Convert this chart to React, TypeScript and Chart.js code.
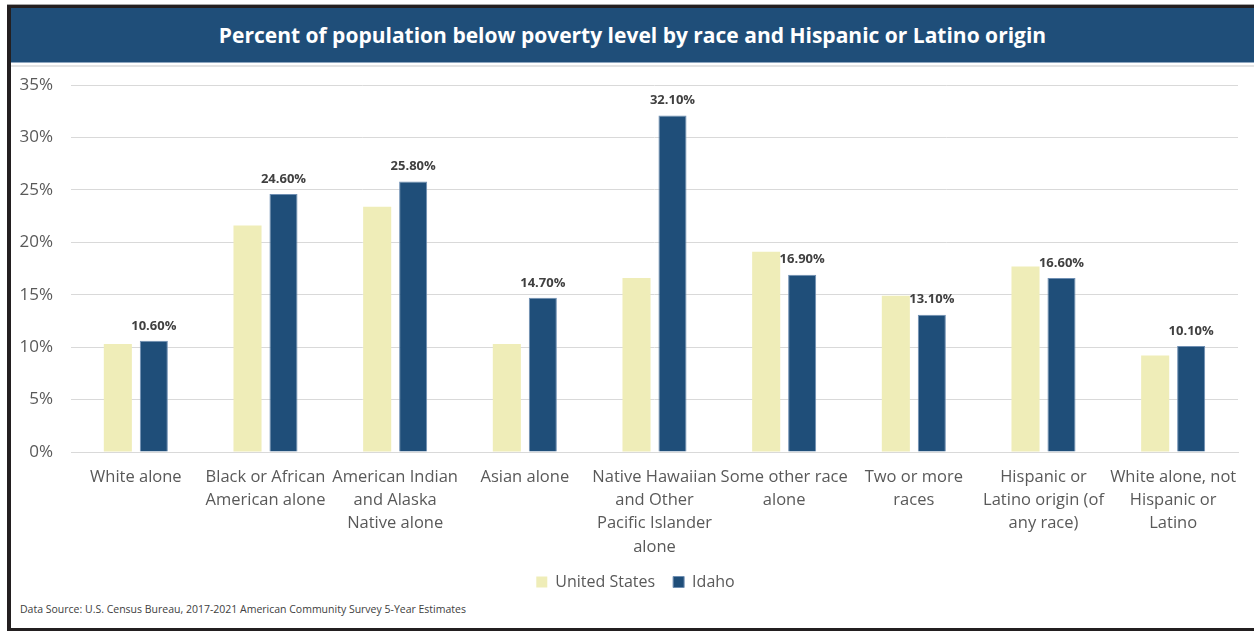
import React, { useEffect, useRef } from "react";
import { Chart, registerables } from "chart.js";

Chart.register(...registerables);

const TITLE = "Percent of population below poverty level by race and Hispanic or Latino origin";
const SOURCE = "Data Source: U.S. Census Bureau, 2017-2021 American Community Survey 5-Year Estimates";

const categories: string[][] = [
  ["White alone"],
  ["Black or African", "American alone"],
  ["American Indian", "and Alaska", "Native alone"],
  ["Asian alone"],
  ["Native Hawaiian", "and Other", "Pacific Islander", "alone"],
  ["Some other race", "alone"],
  ["Two or more", "races"],
  ["Hispanic or", "Latino origin (of", "any race)"],
  ["White alone, not", "Hispanic or", "Latino"],
];

const unitedStates = [10.3, 21.6, 23.4, 10.3, 16.6, 19.1, 14.9, 17.7, 9.2];
const idaho = [10.6, 24.6, 25.8, 14.7, 32.1, 16.9, 13.1, 16.6, 10.1];

const seriesNames = ["United States", "Idaho"];
const yTicks = [0, 5, 10, 15, 20, 25, 30, 35];

const FONT = "'Open Sans', 'Noto Sans', sans-serif";

const labelPlugin = {
  id: "idahoLabels",
  afterDatasetsDraw(chart: any) {
    const ctx = chart.ctx;
    const meta = chart.getDatasetMeta(1);
    ctx.save();
    ctx.font = `bold 13px ${FONT}`;
    ctx.fillStyle = "#404040";
    ctx.textAlign = "center";
    ctx.textBaseline = "middle";
    meta.data.forEach((bar: any, i: number) => {
      const v = chart.data.datasets[1].data[i] as number;
      ctx.fillText(v.toFixed(2) + "%", bar.x, bar.y - 15);
    });
    ctx.restore();
  },
};

// nudge the legend so it is centred like the original
const legendShiftPlugin = {
  id: "legendShift",
  afterLayout(chart: any) {
    const l = chart.legend;
    if (l) {
      l.left += 11;
      l.right += 11;
    }
  },
};

export default function App() {
  const canvasRef = useRef<HTMLCanvasElement>(null);

  useEffect(() => {
    const canvas = canvasRef.current;
    if (!canvas) return;
    const chart = new Chart(canvas, {
      type: "bar",
      data: {
        labels: categories,
        datasets: [
          {
            label: seriesNames[0],
            data: unitedStates,
            backgroundColor: "#EFEDB8",
            borderWidth: 0,
          },
          {
            label: seriesNames[1],
            data: idaho,
            backgroundColor: "#1F4E79",
            borderColor: "#6F8FB3",
            borderWidth: 1,
          },
        ],
      },
      options: {
        responsive: false,
        animation: false,
        devicePixelRatio: 1,
        layout: { padding: { top: 17, right: 16, left: 0, bottom: 0 } },
        datasets: {
          bar: { categoryPercentage: 0.555, barPercentage: 0.78 },
        },
        scales: {
          x: {
            grid: { display: false, drawTicks: false },
            border: { display: true, color: "#D9D9D9", width: 1 },
            ticks: {
              autoSkip: false,
              maxRotation: 0,
              minRotation: 0,
              padding: 14,
              color: "#595959",
              font: { family: FONT, size: 16.5, lineHeight: 1.4 },
            },
            afterFit(scale: any) {
              scale.height = 104;
            },
          },
          y: {
            min: 0,
            max: 35,
            afterBuildTicks(scale: any) {
              scale.ticks = yTicks.map((v) => ({ value: v }));
            },
            grid: { color: "#D9D9D9", drawTicks: false, lineWidth: 1 },
            border: { display: false },
            ticks: {
              padding: 18,
              color: "#595959",
              font: { family: FONT, size: 17 },
              callback: (v: any) => v + "%",
            },
            afterFit(scale: any) {
              scale.width = 60;
              scale.paddingTop = 0;
              scale.paddingBottom = 0;
            },
          },
        },
        plugins: {
          legend: {
            position: "bottom",
            labels: {
              boxWidth: 11,
              boxHeight: 11,
              padding: 18,
              color: "#595959",
              font: { family: FONT, size: 16 },
            },
          },
          tooltip: { enabled: false },
          title: { display: false },
        },
      },
      plugins: [labelPlugin, legendShiftPlugin],
    });
    return () => chart.destroy();
  }, []);

  return (
    <div
      style={{
        position: "absolute",
        left: 0,
        top: 0,
        width: 1254,
        height: 631,
        background: "#FFFFFF",
        overflow: "hidden",
        fontFamily: FONT,
      }}
    >
      <div style={{ position: "absolute", left: 7, top: 4, width: 1247, height: 1, background: "#A6A6A6" }} />
      <div style={{ position: "absolute", left: 7, top: 5, width: 1247, height: 3, background: "#231F20" }} />
      <div style={{ position: "absolute", left: 7, top: 5, width: 4, height: 626, background: "#231F20" }} />
      <div style={{ position: "absolute", left: 7, top: 628, width: 1247, height: 3, background: "#231F20" }} />
      <div
        style={{
          position: "absolute",
          left: 11,
          top: 8,
          width: 1243,
          height: 54,
          background: "#1F4E79",
          color: "#FFFFFF",
          fontWeight: 700,
          fontSize: 21,
          lineHeight: "54px",
          textAlign: "center",
          whiteSpace: "nowrap",
        }}
      >
        {TITLE}
      </div>
      <div style={{ position: "absolute", left: 11, top: 62, width: 1243, height: 1, background: "#8FA7C0" }} />
      <div style={{ position: "absolute", left: 11, top: 65, width: 1243, height: 2, background: "#E4E4E4" }} />
      <div style={{ position: "absolute", left: 11, top: 68 }}>
        <canvas ref={canvasRef} width={1243} height={532} style={{ display: "block" }} />
      </div>
      <div
        style={{
          position: "absolute",
          left: 20,
          top: 601,
          fontSize: 10.5,
          color: "#404040",
          whiteSpace: "nowrap",
          lineHeight: "16px",
        }}
      >
        {SOURCE}
      </div>
    </div>
  );
}
